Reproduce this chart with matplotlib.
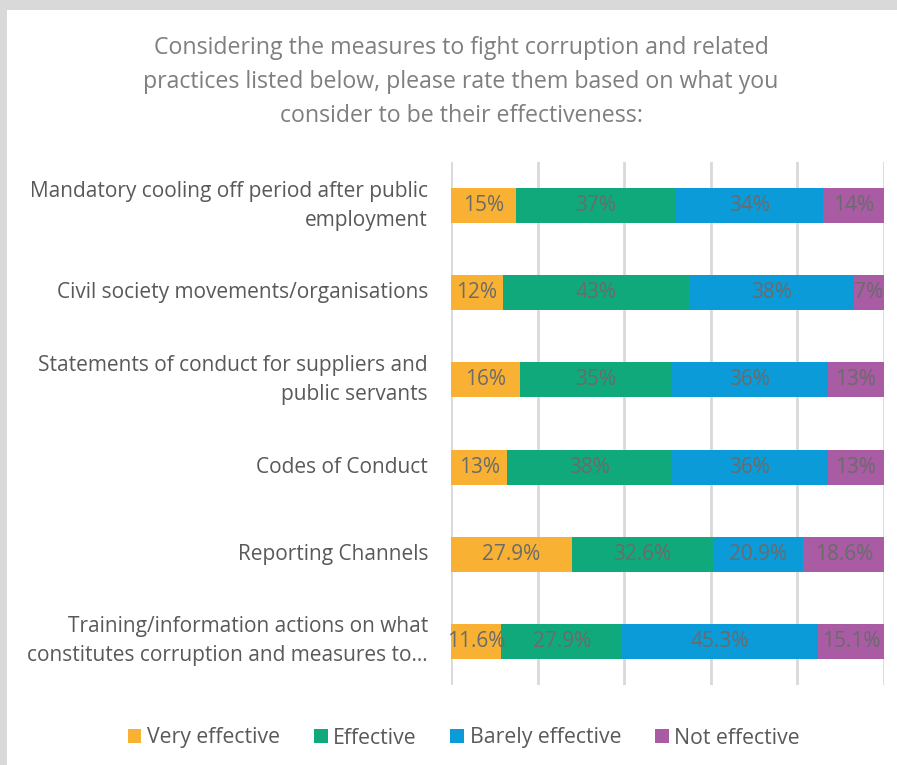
import numpy as np
import matplotlib
matplotlib.use('Agg')
import matplotlib.pyplot as plt
import matplotlib.transforms as mtransforms
from matplotlib.patches import Rectangle

plt.rcParams['font.family'] = ['Open Sans', 'DejaVu Sans']

categories = [
    'Mandatory cooling off period after public\nemployment',
    'Civil society movements/organisations',
    'Statements of conduct for suppliers and\npublic servants',
    'Codes of Conduct',
    'Reporting Channels',
    'Training/information actions on what\nconstitutes corruption and measures to…',
]
series_names = ['Very effective', 'Effective', 'Barely effective', 'Not effective']
very_effective = [15, 12, 16, 13, 27.9, 11.6]
effective = [37, 43, 35, 38, 32.6, 27.9]
barely_effective = [34, 38, 36, 36, 20.9, 45.3]
not_effective = [14, 7, 13, 13, 18.6, 15.1]
label_decimals = [0, 0, 0, 0, 1, 1]

colors = ['#F8B133', '#10A97B', '#0A9BD8', '#A95BA3']
text_gray = '#595959'
data_gray = '#6b6b6b'

fig = plt.figure(figsize=(8.97, 7.65), dpi=100)
fig.patch.set_facecolor('#d9d9d9')
fig.patches.append(Rectangle((7 / 897, 0), 1, 1 - 10 / 765, transform=fig.transFigure,
                             facecolor='white', edgecolor='none', zorder=-1))

ax = fig.add_axes([451 / 897, 1 - 685 / 765, 433 / 897, 523 / 765])
ax.set_facecolor('white')

y = np.arange(len(categories))
left = np.zeros(len(categories))
series = [very_effective, effective, barely_effective, not_effective]
for vals, name, col in zip(series, series_names, colors):
    vals = np.array(vals, dtype=float)
    ax.barh(y, vals, left=left, height=0.4, color=col, label=name, zorder=3)
    for i, v in enumerate(vals):
        txt = f'{v:.{label_decimals[i]}f}%'
        ax.text(left[i] + v / 2, y[i], txt, ha='center', va='center',
                fontsize=15, color=data_gray, zorder=4)
    left += vals

ax.set_xlim(0, 100)
ax.set_ylim(5.5, -0.5)
ax.set_xticks(np.arange(0, 101, 20))
ax.set_xticklabels([])
ax.tick_params(axis='x', length=0)
ax.grid(axis='x', color='#d9d9d9', linewidth=2, zorder=0)
ax.set_yticks([])
for s in ax.spines.values():
    s.set_visible(False)

# category labels, right-aligned left of the plot area
lab_tr = mtransforms.blended_transform_factory(ax.transAxes, ax.transData) + \
    mtransforms.ScaledTranslation(-23 / 100, 0, fig.dpi_scale_trans)
for yi, cat in zip(y, categories):
    ax.text(0, yi, cat, transform=lab_tr, ha='right', va='center',
            fontsize=15, color=text_gray, linespacing=1.5)

fig.text(0.514, 1 - 82 / 765,
         'Considering the measures to fight corruption and related\n'
         'practices listed below, please rate them based on what you\n'
         'consider to be their effectiveness:',
         ha='center', va='center', fontsize=16.7, color='#7f7f7f', linespacing=1.55)

fig.legend(loc='center', bbox_to_anchor=(0.517, 1 - 738 / 765), ncol=4, frameon=False,
           fontsize=15.3, labelcolor=text_gray, handlelength=0.65, handleheight=0.65,
           handletextpad=0.25, columnspacing=1.6)

fig.savefig('out.png', dpi=100, facecolor=fig.get_facecolor())
